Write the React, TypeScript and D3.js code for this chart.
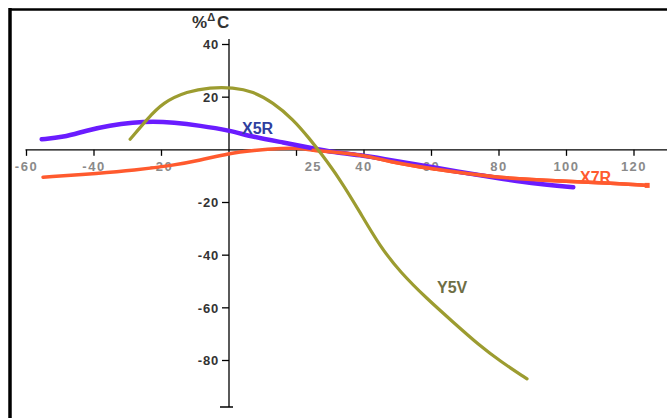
import React from "react";
import * as d3 from "d3";

const W = 667;
const H = 418;

const xTicks = [-60, -40, -20, 20, 40, 60, 80, 100, 120];
const xTickLabels = [-60, -40, -20, 25, 40, 60, 80, 100, 120];
const yTicks = [40, 20, -20, -40, -60, -80];

const x5rX = [-55.5, -49.2, -42.1, -35.3, -28.4, -22.5, -16.6, -8.6, 0, 7.1, 16, 24.9, 30.8, 39.4, 44.7, 59, 79.4, 92.1, 102];
const x5rY = [4.0, 4.7, 7.4, 9.3, 10.4, 10.8, 10.4, 9.2, 7.4, 4.9, 2.8, 0.6, -0.9, -2.1, -3.2, -6.3, -10.8, -13.1, -14.2];

const x7rX = [-55.1, -38.2, -28.4, -16.6, -8.6, 0, 7.1, 16, 21, 24.9, 39.4, 47.7, 59, 79.4, 99, 113.8, 123.9];
const x7rY = [-10.4, -8.9, -7.8, -5.9, -4.0, -1.3, -0.2, 0.6, 0.6, -0.2, -1.7, -4.6, -7.0, -10.7, -11.9, -12.7, -13.5];

const y5vX = [-29.3, -24.3, -19.6, -12.4, -5.6, 1.2, 7.1, 13.0, 19.0, 24.0, 27.0, 32.9, 38.8, 44.7, 50.7, 58.7, 66.4, 74.4, 80.3, 88.3];
const y5vY = [4.0, 11.6, 18.0, 22.2, 23.7, 23.7, 22.2, 18.0, 11.6, 4.0, -0.9, -11.2, -23.7, -36.6, -46.4, -56.6, -65.4, -74.5, -80.2, -87.0];

export default function App() {
  const x = d3.scaleLinear().domain([-60, 120]).range([26.5, 634]);
  const y = d3.scaleLinear().domain([40, -80]).range([44.5, 360.5]);
  const line = d3
    .line<[number, number]>()
    .x((d) => x(d[0]))
    .y((d) => y(d[1]))
    .curve(d3.curveBasis);
  const zip = (a: number[], b: number[]) => a.map((v, i) => [v, b[i]] as [number, number]);
  const x0 = x(0);
  const y0 = y(0);
  const font = "Liberation Sans, Arial, sans-serif";

  return (
    <svg
      width={W}
      height={H}
      style={{ position: "absolute", left: 0, top: 0, background: "#fff" }}
      fontFamily={font}
    >
      <rect x={0} y={0} width={W} height={H} fill="#fff" />
      {/* frame */}
      <line x1={9} y1={9.5} x2={W} y2={9.5} stroke="#000" strokeWidth={2.5} />
      <line x1={10} y1={8} x2={10} y2={H} stroke="#000" strokeWidth={3.5} />

      {/* x axis */}
      <line x1={x(-60) - 1} y1={y0} x2={W} y2={y0} stroke="#000" strokeWidth={1.3} />
      {xTicks.map((t) => (
        <line key={"xt" + t} x1={x(t)} y1={y0} x2={x(t)} y2={y0 + 6} stroke="#000" strokeWidth={1.3} />
      ))}
      {xTickLabels.map((t) => (
        <text
          key={"xl" + t}
          x={x(t)}
          y={171}
          textAnchor="middle"
          fontSize={13}
          fontWeight="bold"
          fill="#8a8a8a"
          letterSpacing={1.5}
        >
          {t}
        </text>
      ))}

      {/* y axis */}
      <line x1={x0} y1={39} x2={x0} y2={407} stroke="#000" strokeWidth={1.3} />
      <line x1={x0 - 9} y1={407} x2={x0 + 4} y2={407} stroke="#000" strokeWidth={1.5} />
      {yTicks.map((t) => (
        <g key={"yt" + t}>
          <line x1={x0 - 7} y1={y(t)} x2={x0} y2={y(t)} stroke="#000" strokeWidth={1.3} />
          <text
            x={x0 - 10}
            y={y(t)}
            dy="0.36em"
            textAnchor="end"
            fontSize={13}
            fontWeight="bold"
            fill="#333"
            letterSpacing={0.8}
          >
            {t}
          </text>
        </g>
      ))}
      <text x={192} y={28} fontSize={17} fontWeight="bold" fill="#333">
        %<tspan fontSize={11} dy={-7}>Δ</tspan>
        <tspan dy={7} dx={2}>C</tspan>
      </text>

      {/* series */}
      <path d={line(zip(x7rX, x7rY)) || ""} fill="none" stroke="#ff5a2e" strokeWidth={3.5} strokeLinecap="round" />
      <path d={line(zip(x5rX, x5rY)) || ""} fill="none" stroke="#6a1cff" strokeWidth={4.5} strokeLinecap="round" />
      <path d={line(zip(x7rX.slice(9), x7rY.slice(9))) || ""} fill="none" stroke="#ff5a2e" strokeWidth={3.5} strokeLinecap="round" />
      <path d={line(zip(y5vX, y5vY)) || ""} fill="none" stroke="#9c9c30" strokeWidth={3.2} strokeLinecap="round" />
      <rect x={x(123.9) - 2.5} y={y(-13.5) - 2.5} width={5} height={5} fill="#ff5a2e" />

      {/* labels */}
      <text x={242} y={134} fontSize={16} fontWeight="bold" fill="#2f3f9f">X5R</text>
      <text x={580} y={183} fontSize={16} fontWeight="bold" fill="#ff5a2e">X7R</text>
      <text x={437} y={293} fontSize={16} fontWeight="bold" fill="#6e6e45">Y5V</text>
    </svg>
  );
}
